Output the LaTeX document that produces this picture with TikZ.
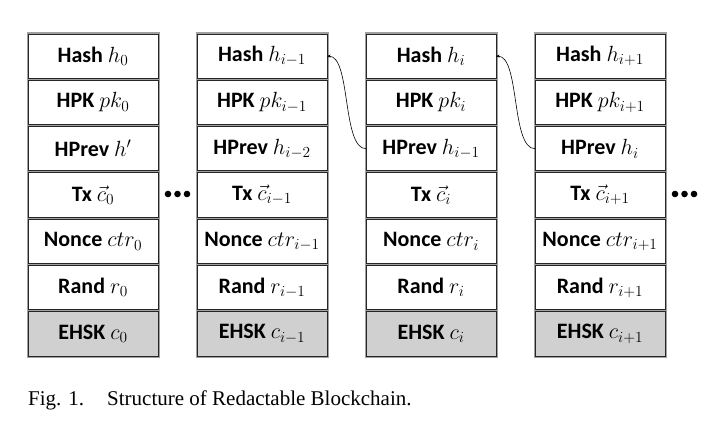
\documentclass[tikz,border=0pt]{standalone}
\usepackage{fix-cm}
\usepackage{fontspec}
\setmainfont{Carlito}
\newfontfamily\capfont{Liberation Serif}
\usetikzlibrary{arrows.meta}
\definecolor{framegray}{RGB}{160,160,160}
\definecolor{ehsk}{RGB}{208,208,208}
\newcommand\blockcol[4]{%
  \pgfmathsetmacro\xl{27+169*#1}%
  \pgfmathsetmacro\xc{\xl+66}%
  \fill[colframe] (\xl,33) rectangle ++(132,324);
  \node[cell] (c#1r0) at (\xc,{33+46.286*0.5}) {Hash $h_{#2}$};
  \node[cell] (c#1r1) at (\xc,{33+46.286*1.5}) {HPK $pk_{#2}$};
  \node[cell] (c#1r2) at (\xc,{33+46.286*2.5}) {HPrev $#3$};
  \node[cell] (c#1r3) at (\xc,{33+46.286*3.5}) {Tx $\vec{c}_{#2}$};
  \node[cell] (c#1r4) at (\xc,{33+46.286*4.5}) {Nonce $ctr_{#2}$};
  \node[cell] (c#1r5) at (\xc,{33+46.286*5.5}) {Rand $r_{#2}$};
  \node[gcell] (c#1r6) at (\xc,{33+46.286*6.5}) {EHSK $c_{#2}$};
}
\begin{document}
\begin{tikzpicture}[x=1pt,y=-1pt,
  cell/.style={draw=black!85, line width=0.9pt, fill=white,
    minimum width=130pt, minimum height=44.29pt, inner sep=0pt, outer sep=0pt,
    font=\fontsize{22}{24}\selectfont\bfseries},
  gcell/.style={cell, fill=ehsk},
  colframe/.style={fill=framegray, draw=framegray, line width=1pt},
  link/.style={black, line width=0.6pt, {Stealth[length=3.5pt,width=3pt]}-},
  dot/.style={circle, fill=black, inner sep=0pt, minimum size=6.6pt},
  captext/.style={anchor=base west, inner sep=0pt, font=\capfont\fontsize{21}{23}\selectfont}]
\useasboundingbox (0,0) rectangle (708,438);
\blockcol{0}{0}{h'}{}
\blockcol{1}{i-1}{h_{i-2}}{}
\blockcol{2}{i}{h_{i-1}}{}
\blockcol{3}{i+1}{h_{i}}{}
% dots
\node[dot] (d1) at (168,194) {};
\node[dot] (d2) at (177.5,194) {};
\node[dot] (d3) at (187,194) {};
\node[dot] (e1) at (675,194) {};
\node[dot] (e2) at (684.5,194) {};
\node[dot] (e3) at (694,194) {};
% links
\draw[link] (c1r0.east) .. controls +(24,0) and +(-24,0) .. (c2r2.west);
\draw[link] (c2r0.east) .. controls +(24,0) and +(-24,0) .. (c3r2.west);
% caption
\node[captext] (figno) at (28,405) {Fig. 1.};
\node[captext] (figtext) at (107,405) {Structure of Redactable Blockchain.};
\end{tikzpicture}
\end{document}
